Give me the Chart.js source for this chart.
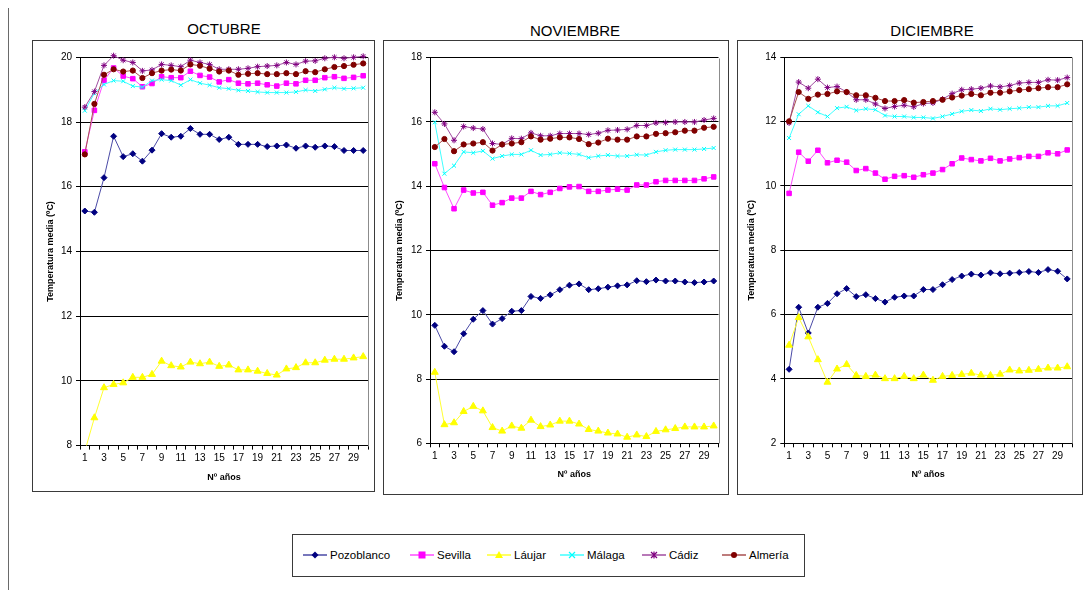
<!DOCTYPE html>
<html lang="es">
<head>
<meta charset="utf-8">
<script src="https://cdn.jsdelivr.net/npm/chart.js@4.4.1/dist/chart.umd.min.js"></script>
<style>
  html, body { margin: 0; padding: 0; background: #fff; }
  body { width: 1090px; height: 590px; position: relative; overflow: hidden;
         font-family: "Liberation Sans", Arial, sans-serif; color: #000; }
  .rule { position: absolute; left: 8px; top: 8px; width: 1px; height: 582px; background: #6a6a6a; }
  .title { position: absolute; font-size: 15px; transform: translate(-50%, -50%); white-space: nowrap; }
  .panel { position: absolute; border: 1px solid #3a3a3a; box-sizing: border-box; background: #fff; }
  .panel canvas { position: absolute; left: 0; top: 0; }
  .legend { position: absolute; left: 292px; top: 534px; width: 513px; height: 43px;
            border: 1px solid #3a3a3a; box-sizing: border-box; background: #fff; }
  .legend .item { position: absolute; top: 11px; height: 18px; display: flex; align-items: center;
                  font-size: 11.5px; white-space: nowrap; }
  .legend svg { margin-right: 3px; }
</style>
</head>
<body>
<div class="rule"></div>

<div class="title" style="left:224px; top:28px;">OCTUBRE</div>
<div class="title" style="left:575px; top:30px;">NOVIEMBRE</div>
<div class="title" style="left:932px; top:30px;">DICIEMBRE</div>

<div class="panel" style="left:32px; top:40px; width:343px; height:452px;"><canvas id="cOct" width="341" height="450"></canvas></div>
<div class="panel" style="left:383px; top:40px; width:346px; height:455px;"><canvas id="cNov" width="344" height="453"></canvas></div>
<div class="panel" style="left:737px; top:40px; width:346px; height:455px;"><canvas id="cDic" width="344" height="453"></canvas></div>

<div class="legend" id="legend"></div>

<script>
// Nº de años (eje X)
const anios = [1,2,3,4,5,6,7,8,9,10,11,12,13,14,15,16,17,18,19,20,21,22,23,24,25,26,27,28,29,30];

// Estaciones
const estaciones = ['Pozoblanco', 'Sevilla', 'Láujar', 'Málaga', 'Cádiz', 'Almería'];

// Marcas del eje Y de cada mes (ºC)
const octTicks = [8, 10, 12, 14, 16, 18, 20];
const novTicks = [6, 8, 10, 12, 14, 16, 18];
const dicTicks = [2, 4, 6, 8, 10, 12, 14];

// Temperatura media de OCTUBRE (ºC)
const octPozoblanco = [15.25,15.21,16.28,17.56,16.93,17.02,16.79,17.13,17.64,17.53,17.56,17.80,17.62,17.62,17.46,17.53,17.31,17.31,17.31,17.24,17.26,17.29,17.19,17.26,17.22,17.26,17.24,17.12,17.12,17.12];
const octSevilla    = [17.08,18.36,19.29,19.67,19.42,19.34,19.09,19.19,19.40,19.37,19.37,19.57,19.44,19.39,19.24,19.31,19.20,19.18,19.20,19.15,19.11,19.20,19.18,19.29,19.29,19.37,19.40,19.35,19.38,19.43];
const octLaujar     = [7.82,8.86,9.79,9.89,9.94,10.11,10.11,10.20,10.61,10.47,10.43,10.58,10.53,10.58,10.45,10.49,10.34,10.34,10.30,10.23,10.18,10.37,10.41,10.56,10.56,10.64,10.67,10.67,10.71,10.75];
const octMalaga     = [18.35,18.89,19.16,19.28,19.26,19.11,19.08,19.28,19.31,19.28,19.14,19.31,19.20,19.14,19.06,19.03,18.98,18.96,18.93,18.91,18.91,18.91,18.93,18.99,18.96,19.01,19.06,19.03,19.04,19.06];
const octCadiz      = [18.46,18.94,19.75,20.05,19.91,19.84,19.58,19.61,19.78,19.75,19.71,19.91,19.84,19.78,19.63,19.63,19.63,19.66,19.71,19.73,19.75,19.84,19.78,19.88,19.89,19.97,20.00,19.97,20.00,20.03];
const octAlmeria    = [17.00,18.56,19.46,19.63,19.56,19.59,19.36,19.51,19.59,19.62,19.59,19.78,19.74,19.65,19.56,19.59,19.46,19.49,19.51,19.48,19.48,19.51,19.48,19.57,19.54,19.63,19.70,19.73,19.77,19.81];

// Temperatura media de NOVIEMBRE (ºC)
const novPozoblanco = [9.67,9.02,8.85,9.41,9.86,10.13,9.71,9.88,10.11,10.13,10.57,10.51,10.62,10.78,10.92,10.96,10.78,10.81,10.86,10.90,10.93,11.06,11.03,11.08,11.05,11.05,11.02,11.00,11.02,11.05];
const novSevilla    = [14.70,13.96,13.30,13.88,13.79,13.81,13.41,13.49,13.63,13.63,13.84,13.74,13.81,13.93,13.98,13.99,13.84,13.84,13.88,13.91,13.88,14.04,14.04,14.14,14.18,14.18,14.18,14.18,14.23,14.29];
const novLaujar     = [8.21,6.58,6.64,6.99,7.15,7.01,6.49,6.38,6.54,6.47,6.72,6.52,6.57,6.69,6.69,6.60,6.43,6.38,6.32,6.29,6.19,6.26,6.21,6.37,6.42,6.46,6.51,6.51,6.51,6.54];
const novMalaga     = [15.99,14.39,14.64,15.07,15.04,15.10,14.86,14.94,14.99,14.99,15.12,14.97,14.99,15.04,15.02,14.99,14.89,14.94,14.97,14.94,14.94,14.98,14.97,15.07,15.12,15.14,15.14,15.14,15.16,15.19];
const novCadiz      = [16.30,15.94,15.43,15.86,15.81,15.78,15.33,15.30,15.49,15.48,15.66,15.57,15.57,15.64,15.64,15.64,15.61,15.65,15.74,15.75,15.77,15.89,15.89,15.97,15.98,16.00,16.00,16.00,16.06,16.11];
const novAlmeria    = [15.22,15.47,15.09,15.30,15.33,15.37,15.11,15.30,15.33,15.37,15.55,15.45,15.48,15.52,15.52,15.47,15.31,15.36,15.48,15.45,15.45,15.55,15.55,15.63,15.65,15.68,15.73,15.73,15.82,15.85];

// Temperatura media de DICIEMBRE (ºC)
const dicPozoblanco = [4.30,6.23,5.43,6.23,6.35,6.65,6.81,6.56,6.62,6.50,6.39,6.54,6.58,6.58,6.78,6.78,6.93,7.09,7.20,7.26,7.23,7.30,7.27,7.29,7.31,7.34,7.31,7.40,7.35,7.11];
const dicSevilla    = [9.77,11.05,10.77,11.11,10.72,10.80,10.74,10.48,10.54,10.40,10.21,10.30,10.32,10.27,10.35,10.40,10.51,10.69,10.87,10.82,10.78,10.86,10.78,10.84,10.88,10.92,10.92,11.03,11.00,11.12];
const dicLaujar     = [5.05,5.91,5.31,4.60,3.90,4.31,4.45,4.11,4.08,4.12,4.01,4.01,4.08,4.01,4.12,3.96,4.08,4.11,4.14,4.18,4.12,4.11,4.15,4.28,4.25,4.27,4.30,4.34,4.34,4.38];
const dicMalaga     = [11.49,12.23,12.49,12.29,12.16,12.42,12.46,12.35,12.40,12.37,12.19,12.16,12.16,12.13,12.13,12.10,12.16,12.24,12.32,12.36,12.33,12.40,12.37,12.40,12.42,12.45,12.45,12.49,12.49,12.58];
const dicCadiz      = [11.96,13.23,13.04,13.32,13.06,13.09,12.92,12.68,12.68,12.55,12.41,12.47,12.51,12.46,12.56,12.58,12.70,12.87,12.99,13.01,13.04,13.11,13.08,13.12,13.20,13.22,13.22,13.30,13.29,13.37];
const dicAlmeria    = [12.01,12.92,12.71,12.84,12.86,12.94,12.92,12.82,12.82,12.74,12.64,12.64,12.67,12.59,12.61,12.64,12.68,12.75,12.81,12.86,12.82,12.90,12.90,12.94,12.98,13.01,13.04,13.07,13.07,13.16];

// Estilo de cada serie (línea + marcador)
const estilos = [
  { line: '#4a4aa6', mark: '#000080', shape: 'rectRot',  r: 3.0 },
  { line: '#ff4cff', mark: '#ff00ff', shape: 'rect',     r: 3.2 },
  { line: '#ffff30', mark: '#ffff00', shape: 'triangle', r: 4.0 },
  { line: '#40ffff', mark: '#00ffff', shape: 'crossRot', r: 2.8 },
  { line: '#a04ca0', mark: '#800080', shape: 'star',     r: 3.0 },
  { line: '#a85050', mark: '#800000', shape: 'circle',   r: 2.6 }
];

const FONT = '"Liberation Sans", Arial, sans-serif';

// Borde gris del área de trazado (lado derecho)
const plotFrame = {
  id: 'plotFrame',
  beforeDatasetsDraw(chart) {
    const { ctx, chartArea: a } = chart;
    ctx.save();
    ctx.strokeStyle = '#8c8c8c';
    ctx.lineWidth = 1;
    ctx.beginPath();
    const x = Math.round(a.right) + 0.5;
    ctx.moveTo(x, Math.round(a.top) + 0.5);
    ctx.lineTo(x, Math.round(a.bottom) + 0.5);
    ctx.stroke();
    ctx.restore();
  }
};

function panel(id, series, ticks, geo) {
  const canvas = document.getElementById(id);
  const W = canvas.width, H = canvas.height;
  const datasets = series.map((vals, i) => {
    const s = estilos[i];
    return {
      label: estaciones[i],
      data: vals,
      borderColor: s.line,
      borderWidth: 1,
      backgroundColor: s.mark,
      pointStyle: s.shape,
      pointRadius: s.r,
      pointHoverRadius: s.r,
      pointBackgroundColor: s.mark,
      pointBorderColor: s.mark,
      pointBorderWidth: 1,
      tension: 0,
      clip: { left: 8, right: 8, top: 8, bottom: 0 },
      order: series.length - i
    };
  });
  return new Chart(canvas, {
    type: 'line',
    data: { labels: anios, datasets },
    plugins: [plotFrame],
    options: {
      responsive: false,
      animation: false,
      devicePixelRatio: 1,
      events: [],
      layout: { padding: { left: 0, top: geo.top, right: W - geo.right, bottom: 0 } },
      plugins: { legend: { display: false }, tooltip: { enabled: false }, title: { display: false } },
      scales: {
        x: {
          type: 'category',
          offset: true,
          grid: { display: true, drawOnChartArea: false, drawTicks: true, tickLength: 4,
                  offset: true, color: '#000', lineWidth: 1 },
          border: { display: true, color: '#000', width: 1 },
          ticks: {
            autoSkip: false, maxRotation: 0, minRotation: 0, padding: 3,
            color: '#000', font: { family: FONT, size: 10 },
            callback: (v, i) => (i % 2 === 0 ? String(anios[i]) : '')
          },
          title: { display: true, text: 'Nº años', color: '#000',
                   font: { family: FONT, size: 9, weight: 'bold' },
                   padding: { top: 2, bottom: geo.xTitlePad } },
          afterFit: sc => { sc.height = H - geo.bottom; }
        },
        y: {
          min: ticks[0],
          max: ticks[ticks.length - 1],
          afterBuildTicks: sc => { sc.ticks = ticks.map(v => ({ value: v })); },
          grid: { display: true, drawOnChartArea: true, drawTicks: true, tickLength: 4,
                  color: '#000', lineWidth: 1 },
          border: { display: true, color: '#000', width: 1 },
          ticks: { padding: 4, color: '#000', font: { family: FONT, size: 10 } },
          title: { display: true, text: 'Temperatura media (ºC)', color: '#000',
                   font: { family: FONT, size: 9, weight: 'bold' },
                   padding: { top: geo.yTitlePad, bottom: 0 } },
          afterFit: sc => { sc.width = geo.left; }
        }
      }
    }
  });
}

panel('cOct', [octPozoblanco, octSevilla, octLaujar, octMalaga, octCadiz, octAlmeria], octTicks,
      { left: 47, top: 16.3, right: 335, bottom: 404.6, xTitlePad: 8, yTitlePad: 12 });
panel('cNov', [novPozoblanco, novSevilla, novLaujar, novMalaga, novCadiz, novAlmeria], novTicks,
      { left: 46, top: 16.7, right: 334.5, bottom: 402.3, xTitlePad: 14, yTitlePad: 10 });
panel('cDic', [dicPozoblanco, dicSevilla, dicLaujar, dicMalaga, dicCadiz, dicAlmeria], dicTicks,
      { left: 46.3, top: 16.3, right: 334, bottom: 402.3, xTitlePad: 14, yTitlePad: 8 });

// Leyenda común
const legendX = [10, 117, 194, 267, 349, 429];
function marker(s) {
  const c = s.mark, cx = 12, cy = 6;
  switch (s.shape) {
    case 'rectRot':  return `<polygon points="${cx},${cy-3.5} ${cx+3.5},${cy} ${cx},${cy+3.5} ${cx-3.5},${cy}" fill="${c}"/>`;
    case 'rect':     return `<rect x="${cx-3.5}" y="${cy-3.5}" width="7" height="7" fill="${c}"/>`;
    case 'triangle': return `<polygon points="${cx},${cy-4} ${cx+4},${cy+3} ${cx-4},${cy+3}" fill="${c}"/>`;
    case 'crossRot': return `<path d="M${cx-3} ${cy-3}L${cx+3} ${cy+3}M${cx+3} ${cy-3}L${cx-3} ${cy+3}" stroke="${c}" stroke-width="1.2"/>`;
    case 'star':     return `<path d="M${cx-3} ${cy-3}L${cx+3} ${cy+3}M${cx+3} ${cy-3}L${cx-3} ${cy+3}M${cx} ${cy-3.5}L${cx} ${cy+3.5}" stroke="${c}" stroke-width="1.2"/>`;
    default:         return `<circle cx="${cx}" cy="${cy}" r="3" fill="${c}"/>`;
  }
}
const leg = document.getElementById('legend');
estaciones.forEach((name, i) => {
  const s = estilos[i];
  const div = document.createElement('div');
  div.className = 'item';
  div.style.left = legendX[i] + 'px';
  div.innerHTML = `<svg width="24" height="12" viewBox="0 0 24 12">
      <line x1="0" y1="6" x2="24" y2="6" stroke="${s.line}" stroke-width="1.5"/>${marker(s)}</svg><span>${name}</span>`;
  leg.appendChild(div);
});
</script>
</body>
</html>
